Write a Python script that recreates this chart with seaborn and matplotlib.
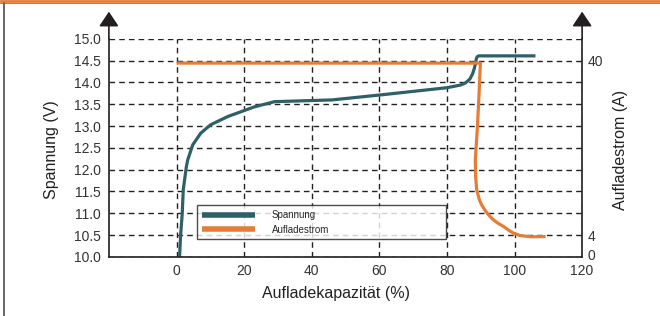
import matplotlib
matplotlib.use("Agg")
import matplotlib.pyplot as plt
import seaborn as sns
import pandas as pd
from matplotlib.lines import Line2D

# ---- data ----
spannung_kap = [0.9, 1.2, 1.7, 2.0, 2.9, 3.3, 4.8, 7.2, 10.1, 15.2, 23.0, 29.0,
                46.0, 61.0, 80.0, 84.0, 85.5, 86.8, 87.6, 88.1, 88.5, 88.7,
                88.95, 89.4, 106.2]
spannung_v = [10.0, 10.48, 11.0, 11.54, 12.06, 12.22, 12.57, 12.84, 13.03, 13.22,
              13.44, 13.56, 13.6, 13.72, 13.88, 13.94, 13.99, 14.08, 14.2, 14.32,
              14.45, 14.54, 14.59, 14.61, 14.61]
strom_kap = [0.0, 89.9, 89.5, 89.0, 88.4, 88.5, 88.8, 89.6, 90.3, 91.2, 92.3,
             93.5, 95.0, 96.7, 98.3, 99.7, 101.7, 105.0, 109.2]
strom_a = [39.5, 39.5, 33.0, 26.0, 19.5, 16.0, 13.4, 11.3, 10.2, 9.2, 8.2,
           7.3, 6.5, 5.8, 5.0, 4.4, 3.9, 3.65, 3.7]
x_ticks = [0, 20, 40, 60, 80, 100, 120]
v_ticks = [10.0, 10.5, 11.0, 11.5, 12.0, 12.5, 13.0, 13.5, 14.0, 14.5, 15.0]
a_ticks = [0, 4, 40]
labels = ["Spannung", "Aufladestrom"]

TEAL = "#2f6068"
ORANGE = "#e67d37"
DARK = "#231f20"

sns.set_theme(style="white")
plt.rcParams["font.family"] = ["Liberation Sans", "DejaVu Sans"]

df_v = pd.DataFrame({"kap": spannung_kap, "val": spannung_v})
df_a = pd.DataFrame({"kap": strom_kap, "val": strom_a})

fig = plt.figure(figsize=(6.6, 3.16), dpi=100)
ax = fig.add_axes([0.165, 0.187, 0.717, 0.69])
ax2 = ax.twinx()

sns.lineplot(data=df_v, x="kap", y="val", ax=ax, color=TEAL, lw=2.3,
             sort=False, estimator=None, label=labels[0], legend=False,
             solid_joinstyle="round", solid_capstyle="butt")
sns.lineplot(data=df_a, x="kap", y="val", ax=ax2, color=ORANGE, lw=2.3,
             sort=False, estimator=None, label=labels[1], legend=False,
             solid_joinstyle="round", solid_capstyle="butt")

ax.set_xlim(-20, 120)
ax.set_ylim(10, 15)
ax2.set_ylim(-0.5, 44.5)

ax.set_xticks(x_ticks)
ax.set_yticks(v_ticks)
ax.set_yticklabels([f"{v:.1f}" for v in v_ticks])
ax2.set_yticks(a_ticks)
ax2.set_yticklabels([str(a) for a in a_ticks])

ax.grid(True, color="#222222", lw=1.0, linestyle=(0, (4, 3)))
ax.set_axisbelow(True)
ax2.grid(False)

ax.tick_params(axis="both", length=0, labelsize=10, colors="#333333")
ax.tick_params(axis="y", pad=6)
ax.tick_params(axis="x", pad=5)
ax2.tick_params(axis="y", length=0, labelsize=10, colors="#333333", pad=4)

for a in (ax, ax2):
    a.spines["top"].set_visible(False)
ax.spines["right"].set_visible(False)
ax2.spines["left"].set_visible(False)
ax2.spines["bottom"].set_visible(False)
for s in (ax.spines["left"], ax.spines["bottom"], ax2.spines["right"]):
    s.set_color(DARK)
    s.set_linewidth(1.2)

# arrows on vertical axes
for xpos in (0, 1):
    ax.annotate("", xy=(xpos, 1.125), xytext=(xpos, 1.0), xycoords="axes fraction",
                textcoords="axes fraction",
                arrowprops=dict(arrowstyle="-|>,head_width=0.5,head_length=0.75",
                                color=DARK, lw=1.2, shrinkA=0, shrinkB=0),
                annotation_clip=False)

ax.set_xlabel("Aufladekapazität (%)", fontsize=11.5, color="#222222")
ax.set_ylabel("Spannung (V)", fontsize=11.5, color="#222222")
ax2.set_ylabel("Aufladestrom (A)", fontsize=11.5, color="#222222")
ax.xaxis.set_label_coords(0.48, -0.135)
ax.yaxis.set_label_coords(-0.105, 0.49)
ax2.yaxis.set_label_coords(1.065, 0.49)

h1, l1 = ax.get_legend_handles_labels()
h2, l2 = ax2.get_legend_handles_labels()
leg = ax2.legend(h1 + h2, l1 + l2, loc="lower left",
                 bbox_to_anchor=(0.186, 0.08, 0.526, 0.16), mode="expand",
                 fontsize=7, handlelength=5.5, handletextpad=1.7,
                 labelspacing=0.45, borderpad=0.5, fancybox=False,
                 frameon=True, borderaxespad=0)
leg.get_frame().set_edgecolor(DARK)
leg.get_frame().set_linewidth(1.0)
for ln in leg.get_lines():
    ln.set_linewidth(4)
    ln.set_solid_capstyle("butt")

# figure borders
fig.add_artist(Line2D([0, 1], [0.997, 0.997], transform=fig.transFigure,
                      color=ORANGE, lw=2))
fig.add_artist(Line2D([0, 1], [0.991, 0.991], transform=fig.transFigure,
                      color="#888888", lw=0.7))
fig.add_artist(Line2D([0.0055, 0.0055], [0, 0.99], transform=fig.transFigure,
                      color="#666666", lw=1.4))

fig.savefig("out.png", dpi=100)
